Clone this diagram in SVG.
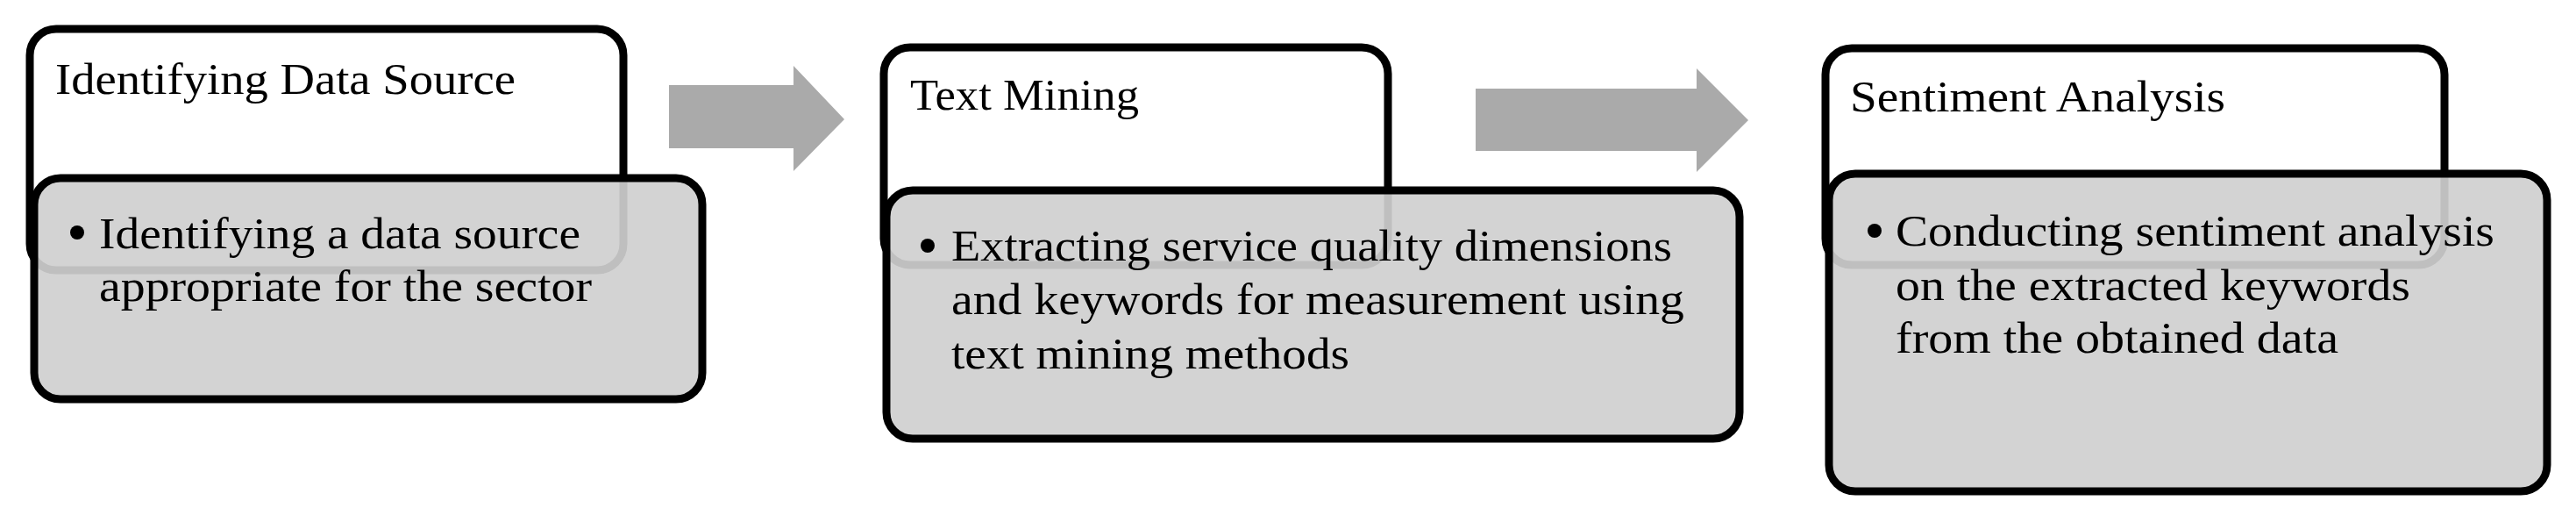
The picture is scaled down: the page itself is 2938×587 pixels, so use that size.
<svg xmlns="http://www.w3.org/2000/svg" width="2938" height="587" viewBox="0 0 2938 587">
  <style>
    .head { fill: #ffffff; stroke: #000000; stroke-width: 9; }
    .body { fill: #cfcfcf; fill-opacity: 0.92; stroke: #000000; stroke-width: 9; }
    .txt { font-family: "Liberation Serif", "Times New Roman", serif; font-size: 51px; fill: #000000; }
    .bullet { fill: #000000; }
    .arrow { fill: #aaaaaa; stroke: none; }
  </style>
  <rect x="0" y="0" width="2938" height="587" fill="#ffffff"/>

  <g id="connectors">
    <polygon class="arrow" points="763,97 905,97 905,75 963,136 905,195 905,169 763,169"/>
    <polygon class="arrow" points="1683,101 1935,101 1935,78 1994,137 1935,196 1935,172 1683,172"/>
  </g>

  <g id="step1-header">
    <rect class="head" x="34" y="33" width="677" height="275" rx="30" ry="30"/>
    <text class="txt" x="63" y="107" textLength="525" lengthAdjust="spacingAndGlyphs">Identifying Data Source</text>
  </g>
  <g id="step1-body">
    <rect class="body" x="39" y="203" width="762" height="252" rx="30" ry="30"/>
    <circle class="bullet" cx="88" cy="265" r="8"/>
    <text class="txt" x="113" y="283" textLength="549" lengthAdjust="spacingAndGlyphs">Identifying a data source</text>
    <text class="txt" x="113" y="343" textLength="562" lengthAdjust="spacingAndGlyphs">appropriate for the sector</text>
  </g>

  <g id="step2-header">
    <rect class="head" x="1008" y="54" width="575" height="248" rx="30" ry="30"/>
    <text class="txt" x="1038" y="125" textLength="261" lengthAdjust="spacingAndGlyphs">Text Mining</text>
  </g>
  <g id="step2-body">
    <rect class="body" x="1011" y="217" width="973" height="283" rx="30" ry="30"/>
    <circle class="bullet" cx="1058" cy="280" r="8"/>
    <text class="txt" x="1085" y="297" textLength="822" lengthAdjust="spacingAndGlyphs">Extracting service quality dimensions</text>
    <text class="txt" x="1085" y="358" textLength="836" lengthAdjust="spacingAndGlyphs">and keywords for measurement using</text>
    <text class="txt" x="1085" y="420" textLength="454" lengthAdjust="spacingAndGlyphs">text mining methods</text>
  </g>

  <g id="step3-header">
    <rect class="head" x="2082" y="55" width="706" height="247" rx="30" ry="30"/>
    <text class="txt" x="2110" y="127" textLength="428" lengthAdjust="spacingAndGlyphs">Sentiment Analysis</text>
  </g>
  <g id="step3-body">
    <rect class="body" x="2086" y="198" width="819" height="362" rx="30" ry="30"/>
    <circle class="bullet" cx="2138" cy="263" r="8"/>
    <text class="txt" x="2162" y="280" textLength="683" lengthAdjust="spacingAndGlyphs">Conducting sentiment analysis</text>
    <text class="txt" x="2162" y="342" textLength="587" lengthAdjust="spacingAndGlyphs">on the extracted keywords</text>
    <text class="txt" x="2162" y="402" textLength="505" lengthAdjust="spacingAndGlyphs">from the obtained data</text>
  </g>
</svg>
